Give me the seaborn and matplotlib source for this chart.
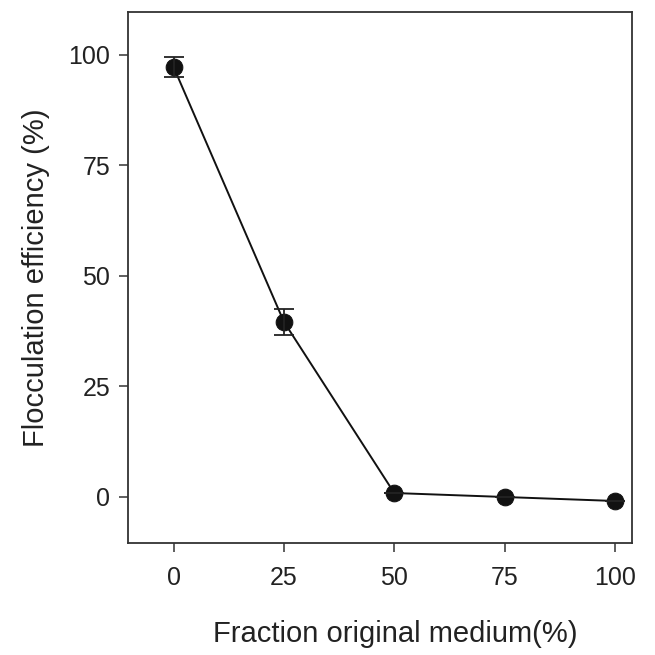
import numpy as np
import pandas as pd
import seaborn as sns
import matplotlib.pyplot as plt

# Values
fraction = [0, 25, 50, 75, 100]
efficiency = [97.2, 39.6, 0.9, 0.0, -0.9]
err = [2.3, 3.0, 0.0, 0.0, 0.0]

df = pd.DataFrame({"fraction": fraction, "efficiency": efficiency, "err": err})

sns.set_style("ticks")
plt.rcParams["font.family"] = ["Liberation Sans", "DejaVu Sans"]

fig = plt.figure(figsize=(6.55, 6.55), dpi=100)
ax = fig.add_axes([0.195, 0.171, 0.77, 0.811])

sns.lineplot(data=df, x="fraction", y="efficiency", ax=ax, color="#111111",
             linewidth=1.4, marker="o", markersize=12, markeredgecolor="#111111")
ax.errorbar(df["fraction"], df["efficiency"], yerr=df["err"], fmt="none",
            ecolor="#222222", elinewidth=1.3, capsize=7, capthick=1.3)

ax.set_xlim(-10.4, 103.9)
ax.set_ylim(-10.4, 109.7)
ax.set_xticks([0, 25, 50, 75, 100])
ax.set_yticks([0, 25, 50, 75, 100])
ax.tick_params(labelsize=18, length=6.5, width=1.1, color="#333333",
               labelcolor="#222222")
ax.tick_params(axis="x", pad=10)
ax.tick_params(axis="y", pad=6)
for s in ax.spines.values():
    s.set_linewidth(1.3)
    s.set_color("#333333")

ax.set_xlabel("Fraction original medium(%)", fontsize=21, labelpad=22,
              color="#222222")
ax.xaxis.label.set_x(0.53)
ax.set_ylabel("Flocculation efficiency (%)", fontsize=21, labelpad=13,
              color="#222222")

fig.savefig("out.png", dpi=100)
